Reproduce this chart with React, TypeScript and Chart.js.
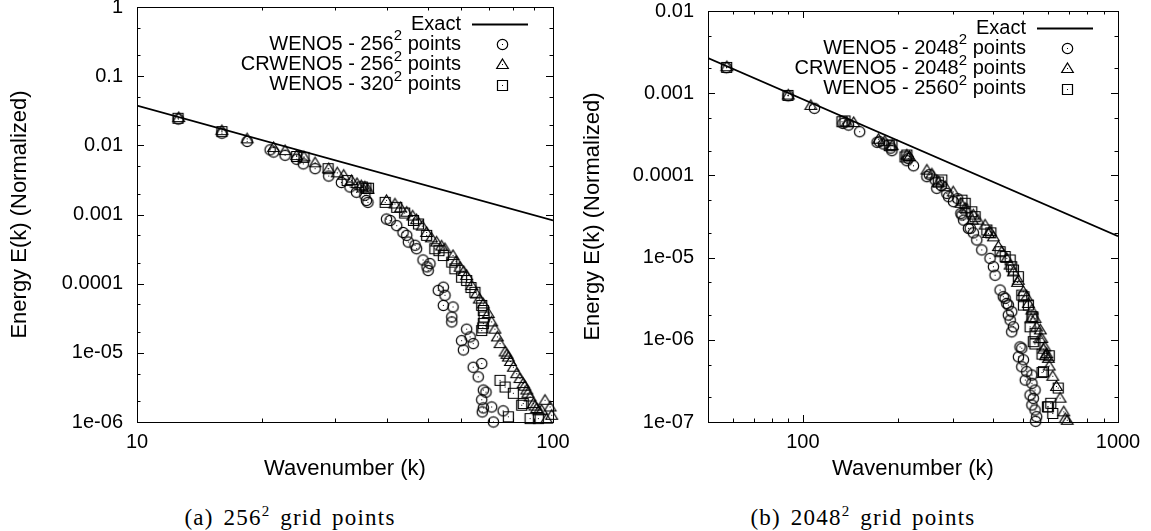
import React, { useEffect, useRef } from 'react';
import { Chart, registerables } from 'chart.js';
Chart.register(...registerables);

// ---------- Panel (a): 256^2 grid points ----------
const aExact: [number, number][] = [[10, 0.0375], [100, 0.00082]];
const aWeno256: [number, number][] = [
  [12.57, 0.024], [16.0, 0.015], [18.4, 0.0114], [20.9, 0.0086], [21.3, 0.008], [22.7, 0.0072], [24.2, 0.0063],
  [25.1, 0.0054], [26.8, 0.0046], [28.9, 0.0036], [31.0, 0.0029], [32.5, 0.0025], [33.7, 0.0021], [35.3, 0.0019],
  [35.6, 0.0016], [35.9, 0.0015], [39.8, 8.6e-4], [40.6, 8.2e-4], [42.1, 6.9e-4], [43.6, 5.5e-4], [44.5, 5.0e-4],
  [44.9, 4.0e-4], [46.6, 3.6e-4], [47.0, 3.2e-4], [48.7, 2.2e-4], [50.6, 1.95e-4], [50.1, 1.55e-4], [49.8, 1.75e-4],
  [53.0, 8.0e-5], [54.5, 8.9e-5], [55.0, 6.8e-5], [54.5, 4.85e-5], [57.5, 4.6e-5], [57.1, 3.3e-5], [57.1, 2.8e-5],
  [62.0, 2.2e-5], [60.3, 1.5e-5], [63.2, 1.7e-5], [60.9, 1.1e-5], [64.3, 1.36e-5], [64.3, 6.2e-6], [67.4, 7.0e-6],
  [66.1, 4.5e-6], [69.0, 2.7e-6], [68.0, 2.9e-6], [67.4, 2.1e-6], [68.0, 1.6e-6], [67.6, 1.4e-6], [71.2, 1.65e-6],
  [71.9, 1.0e-6], [75.9, 1.45e-6],
];
const aCrweno256: [number, number][] = [
  [12.6, 0.0252], [16.0, 0.0163], [18.4, 0.0124], [21.3, 0.0093], [22.7, 0.0084], [24.2, 0.0071], [25.2, 0.0068],
  [26.8, 0.0056], [28.9, 0.0046], [30.3, 0.004], [31.4, 0.0037], [32.8, 0.0031], [33.8, 0.0028], [34.6, 0.0026],
  [35.3, 0.0025], [35.9, 0.0023], [39.8, 1.6e-3], [41.7, 1.42e-3], [43.0, 1.25e-3], [44.5, 1.08e-3], [46.0, 9.5e-4],
  [47.0, 8.4e-4], [48.5, 6.8e-4], [49.7, 5.5e-4], [51.0, 4.6e-4], [52.5, 4.0e-4], [54.0, 3.5e-4], [55.0, 3.2e-4],
  [57.5, 2.55e-4], [58.5, 2.1e-4], [59.8, 1.73e-4], [61.0, 1.5e-4], [62.0, 1.31e-4], [63.8, 9.4e-5], [65.5, 7.1e-5],
  [66.5, 6.0e-5], [68.0, 5.1e-5], [69.9, 3.7e-5], [71.2, 2.8e-5], [72.5, 2.2e-5], [73.5, 1.7e-5], [74.6, 1.36e-5],
  [76.7, 1.03e-5], [77.5, 9.5e-6], [78.1, 8.7e-6], [79.0, 7.5e-6], [80.3, 6.2e-6], [81.8, 5.0e-6], [83.3, 4.25e-6],
  [84.8, 3.6e-6], [85.5, 3.3e-6], [86.5, 2.9e-6], [87.0, 2.6e-6], [88.1, 2.3e-6], [89.7, 1.85e-6], [90.5, 1.7e-6],
  [91.4, 1.57e-6], [92.5, 1.45e-6], [93.9, 1.48e-6], [95.7, 2.06e-6], [96.5, 1.1e-6], [98.4, 1.65e-6], [99.3, 1.25e-6],
];
const aWeno320: [number, number][] = [
  [12.55, 0.0246], [16.0, 0.0158], [24.2, 0.0069], [25.2, 0.0067], [28.8, 0.0046], [32.0, 0.0031], [34.8, 0.0025],
  [35.5, 0.0024], [36.0, 0.0024], [39.5, 1.5e-3], [42.1, 1.27e-3], [44.0, 1.05e-3], [46.2, 8.2e-4], [47.5, 7.3e-4],
  [49.7, 5.0e-4], [52.0, 3.2e-4], [53.2, 3.0e-4], [54.5, 2.55e-4], [57.1, 2.05e-4], [58.1, 1.64e-4], [60.3, 1.24e-4],
  [62.0, 1.11e-4], [63.5, 8.8e-5], [64.9, 7.5e-5], [67.4, 4.85e-5], [68.0, 4.1e-5], [68.3, 3.3e-5], [68.0, 2.65e-5],
  [67.8, 2.3e-5], [67.4, 2.1e-5], [74.6, 4.0e-6], [76.7, 3.2e-6], [80.3, 2.6e-6], [84.1, 1.75e-6], [84.8, 1.85e-6],
  [88.1, 1.12e-6], [92.2, 1.12e-6], [78.1, 1.19e-6],
];

// ---------- Panel (b): 2048^2 grid points ----------
const bExact: [number, number][] = [[50, 2.68e-3], [1000, 1.82e-5]];
const bWeno2048: [number, number][] = [
  [57.2, 2.04e-3], [89.8, 9.3e-4], [108.8, 6.55e-4], [134, 4.3e-4], [139.6, 4.1e-4], [151.4, 3.4e-4], [172, 2.53e-4],
  [175.1, 2.57e-4], [180.3, 2.41e-4], [191.7, 2.0e-4], [190, 2.15e-4], [213.8, 1.51e-4], [216, 1.6e-4], [224.4, 1.31e-4],
  [247.5, 9.65e-5], [252, 1.02e-4], [263, 8.8e-5], [266, 6.97e-5], [275, 7.5e-5], [286.4, 6.05e-5], [290, 5.5e-5],
  [300.6, 4.79e-5], [310, 5.2e-5], [317.3, 3.46e-5], [319.6, 3.3e-5], [323.6, 2.86e-5], [335.2, 2.27e-5],
  [339.6, 2.27e-5], [347.5, 2.0e-5], [356.3, 1.64e-5], [369.6, 1.24e-5], [392.6, 9.8e-6], [402.4, 7.75e-6],
  [407.4, 6.1e-6], [422.6, 4.03e-6], [432.5, 3.34e-6], [438.3, 3.2e-6], [443.6, 2.77e-6], [448.7, 2.65e-6],
  [448.7, 2.0e-6], [460, 2.2e-6], [454.7, 1.74e-6], [465.6, 1.44e-6], [460, 1.25e-6], [495, 7.9e-7], [483, 6.2e-7],
  [488.7, 8.2e-7], [501, 5.7e-7], [495, 4.7e-7], [513.3, 4.1e-7], [533, 3.73e-7], [508, 3.24e-7], [533, 2.96e-7],
  [545.5, 2.45e-7], [526, 2.13e-7], [538.5, 1.94e-7], [533, 1.61e-7], [545.5, 1.4e-7], [552, 1.16e-7], [548, 1.02e-7],
];
const bCrweno2048: [number, number][] = [
  [57.4, 2.1e-3], [89.9, 9.5e-4], [106, 7.1e-4], [138, 4.37e-4], [145, 4.4e-4], [173.9, 2.75e-4], [182, 2.6e-4],
  [192, 2.3e-4], [213.8, 1.77e-4], [218, 1.7e-4], [247.5, 1.16e-4], [256.7, 1.04e-4], [269, 8.15e-5], [282.9, 7.3e-5],
  [300, 6.3e-5], [317.3, 4.58e-5], [327, 3.98e-5], [331.4, 3.9e-5], [347.5, 3.3e-5], [345, 2.86e-5], [359.4, 2.86e-5],
  [378.6, 2.49e-5], [388, 1.97e-5], [392.6, 2.07e-5], [402.4, 1.79e-5], [417.3, 1.36e-5], [427.8, 1.18e-5],
  [443.6, 9.8e-6], [454.7, 8.1e-6], [465.6, 6.7e-6], [482.8, 5.3e-6], [480, 5.0e-6], [501, 3.85e-6], [513, 3.34e-6],
  [519.4, 2.77e-6], [533, 2.3e-6], [530, 1.8e-6], [545.5, 1.82e-6], [552, 1.43e-6], [567, 1.32e-6], [573, 1.04e-6],
  [565, 1.03e-6], [586, 8.2e-7], [581, 7.7e-7], [594, 6.8e-7], [601, 5.95e-7], [589, 6.4e-7], [605, 4.8e-7],
  [621, 3.6e-7], [638, 2.71e-7], [655, 1.95e-7], [673, 1.33e-7], [690, 1.05e-7], [680, 1.1e-7],
];
const bWeno2560: [number, number][] = [
  [57.3, 2.06e-3], [89.7, 9.4e-4], [133.1, 4.5e-4], [136, 4.6e-4], [191.7, 2.35e-4], [188, 2.3e-4], [213.8, 1.77e-4],
  [211, 1.68e-4], [276, 8.8e-5], [269, 8.3e-5], [319.6, 5.0e-5], [327.3, 4.58e-5], [343.5, 3.61e-5], [352, 3.15e-5],
  [383.5, 2.17e-5], [395, 2.0e-5], [422.6, 1.18e-5], [438.4, 1.03e-5], [454.7, 9.35e-6], [460, 7.75e-6],
  [465.6, 7.06e-6], [482.8, 5.86e-6], [495, 3.5e-6], [501, 2.65e-6], [503, 3.34e-6], [519.4, 2.65e-6], [533, 1.91e-6],
  [526, 1.44e-6], [537, 1.9e-6], [545.5, 1.2e-6], [538.5, 9.5e-7], [545, 8.9e-7], [580, 4.1e-7], [574, 6.7e-7],
  [605, 6.4e-7], [574, 4.0e-7], [646, 2.59e-7], [612, 1.69e-7], [597, 1.53e-7], [601, 1.53e-7], [621, 1.27e-7],
];

// ---------- Axes ----------
const aXMajor = [10, 100];
const aXLabels = ['10', '100'];
const aXMinor = [20, 30, 40, 50, 60, 70, 80, 90];
const aYMajor = [1e-6, 1e-5, 1e-4, 1e-3, 1e-2, 1e-1, 1];
const aYLabels = ['1e-06', '1e-05', '0.0001', '0.001', '0.01', '0.1', '1'];
const aYMinor = [2e-6, 5e-6, 2e-5, 5e-5, 2e-4, 5e-4, 2e-3, 5e-3, 2e-2, 5e-2, 0.2, 0.5];

const bXMajor = [100, 1000];
const bXLabels = ['100', '1000'];
const bXMinor = [60, 70, 80, 90, 200, 300, 400, 500, 600, 700, 800, 900];
const bYMajor = [1e-7, 1e-6, 1e-5, 1e-4, 1e-3, 1e-2];
const bYLabels = ['1e-07', '1e-06', '1e-05', '0.0001', '0.001', '0.01'];
const bYMinor = [2e-7, 5e-7, 2e-6, 5e-6, 2e-5, 5e-5, 2e-4, 5e-4, 2e-3, 5e-3];

const aLegend = [['Exact', '', ''], ['WENO5 - 256', '2', ' points'], ['CRWENO5 - 256', '2', ' points'], ['WENO5 - 320', '2', ' points']];
const bLegend = [['Exact', '', ''], ['WENO5 - 2048', '2', ' points'], ['CRWENO5 - 2048', '2', ' points'], ['WENO5 - 2560', '2', ' points']];

const FONT = "'Liberation Sans', Arial, Helvetica, sans-serif";
const INK = '#000';

function makeMarker(kind: string): HTMLCanvasElement {
  const s = 15;
  const c = document.createElement('canvas');
  c.width = s;
  c.height = s;
  const g = c.getContext('2d')!;
  g.strokeStyle = INK;
  g.lineWidth = 1.2;
  const m = 7.5;
  g.beginPath();
  if (kind === 'circle') g.arc(m, m, 5.2, 0, Math.PI * 2);
  else if (kind === 'square') g.rect(m - 5, m - 5, 10, 10);
  else {
    g.moveTo(m, m - 5.5);
    g.lineTo(m + 5.8, m + 4);
    g.lineTo(m - 5.8, m + 4);
    g.closePath();
  }
  g.stroke();
  g.fillStyle = INK;
  g.fillRect(7, 7, 1, 1);
  return c;
}

function labelFor(majors: number[], labels: string[]) {
  return (v: any) => {
    const n = Number(v);
    for (let i = 0; i < majors.length; i++) {
      if (Math.abs(Math.log10(n) - Math.log10(majors[i])) < 1e-6) return labels[i];
    }
    return '';
  };
}

const framePlugin = {
  id: 'frameTicks',
  afterDraw(chart: any, _args: any, opts: any) {
    const { ctx, chartArea: a, scales } = chart;
    const xs = scales.x;
    const ys = scales.y;
    ctx.save();
    ctx.strokeStyle = INK;
    ctx.lineWidth = 1;
    ctx.strokeRect(Math.round(a.left) + 0.5, Math.round(a.top) + 0.5, Math.round(a.right - a.left), Math.round(a.bottom - a.top));
    const drawX = (vals: number[], len: number) => {
      vals.forEach((v) => {
        const p = Math.round(xs.getPixelForValue(v)) + 0.5;
        ctx.beginPath();
        ctx.moveTo(p, a.bottom);
        ctx.lineTo(p, a.bottom - len);
        ctx.moveTo(p, a.top);
        ctx.lineTo(p, a.top + len);
        ctx.stroke();
      });
    };
    const drawY = (vals: number[], len: number) => {
      vals.forEach((v) => {
        const p = Math.round(ys.getPixelForValue(v)) + 0.5;
        ctx.beginPath();
        ctx.moveTo(a.left, p);
        ctx.lineTo(a.left + len, p);
        ctx.moveTo(a.right, p);
        ctx.lineTo(a.right - len, p);
        ctx.stroke();
      });
    };
    drawX(opts.xMajor, 7);
    drawX(opts.xMinor, 3.5);
    drawY(opts.yMajor, 7);
    drawY(opts.yMinor, 3.5);
    ctx.restore();
  },
};

const legendPlugin = {
  id: 'gpLegend',
  afterDatasetsDraw(chart: any, _args: any, opts: any) {
    const { ctx, chartArea: a } = chart;
    const items: string[][] = opts.items;
    const markers: HTMLCanvasElement[] = opts.markers;
    ctx.save();
    ctx.fillStyle = INK;
    ctx.textBaseline = 'middle';
    const textRight = a.right - 92;
    items.forEach((it, i) => {
      const y = a.top + 17 + i * 20.2;
      ctx.font = `20px ${FONT}`;
      const w0 = ctx.measureText(it[0]).width;
      const w2 = ctx.measureText(it[2]).width;
      ctx.font = `15px ${FONT}`;
      const w1 = it[1] ? ctx.measureText(it[1]).width : 0;
      let x = textRight - (w0 + w1 + w2);
      ctx.font = `20px ${FONT}`;
      ctx.fillText(it[0], x, y);
      x += w0;
      if (it[1]) {
        ctx.font = `15px ${FONT}`;
        ctx.fillText(it[1], x, y - 8);
        x += w1;
        ctx.font = `20px ${FONT}`;
      }
      ctx.fillText(it[2], x, y);
      if (i === 0) {
        ctx.strokeStyle = INK;
        ctx.lineWidth = 1.8;
        ctx.beginPath();
        ctx.moveTo(a.right - 81, Math.round(y) + 0.5);
        ctx.lineTo(a.right - 25, Math.round(y) + 0.5);
        ctx.stroke();
      } else {
        const m = markers[i - 1];
        ctx.drawImage(m, Math.round(a.right - 51) - 7.5 + 0.5, Math.round(y) - 7.5 + 0.5);
      }
    });
    ctx.restore();
  },
};

function pts(arr: [number, number][]) {
  return arr.map(([x, y]) => ({ x, y }));
}

interface PanelProps {
  exact: [number, number][];
  series: [number, number][][];
  xMin: number;
  xMax: number;
  yMin: number;
  yMax: number;
  xMajor: number[];
  xLabels: string[];
  xMinor: number[];
  yMajor: number[];
  yLabels: string[];
  yMinor: number[];
  legend: string[][];
  yWidth: number;
  padRight: number;
  padTop: number;
  yTitlePad: number;
  width: number;
}

const HEIGHT = 490;

function Panel(p: PanelProps) {
  const ref = useRef<HTMLCanvasElement>(null);
  useEffect(() => {
    const markers = [makeMarker('circle'), makeMarker('triangle'), makeMarker('square')];
    const font = { family: FONT, size: 20 };
    const titleFont = { family: FONT, size: 22 };
    const chart = new Chart(ref.current!, {
      type: 'scatter',
      data: {
        datasets: [
          {
            type: 'line',
            label: 'Exact',
            data: pts(p.exact),
            borderColor: INK,
            borderWidth: 1.8,
            pointRadius: 0,
            showLine: true,
            fill: false,
          } as any,
          ...p.series.map((s, i) => ({
            label: 's' + i,
            data: pts(s),
            pointStyle: markers[i],
            pointRadius: 6,
            clip: false,
          })),
        ],
      },
      options: {
        animation: false,
        responsive: false,
        devicePixelRatio: 1,
        events: [],
        layout: { padding: { left: 0, right: p.padRight, top: p.padTop, bottom: 0 } },
        plugins: {
          legend: { display: false },
          tooltip: { enabled: false },
          frameTicks: { xMajor: p.xMajor, xMinor: p.xMinor, yMajor: p.yMajor, yMinor: p.yMinor },
          gpLegend: { items: p.legend, markers },
        } as any,
        scales: {
          x: {
            type: 'logarithmic',
            min: p.xMin,
            max: p.xMax,
            afterBuildTicks: (s: any) => {
              s.ticks = p.xMajor.map((v) => ({ value: v }));
            },
            afterFit: (s: any) => {
              s.height = HEIGHT - 422;
              s.paddingLeft = 0;
              s.paddingRight = 0;
            },
            ticks: {
              callback: labelFor(p.xMajor, p.xLabels),
              padding: 8,
              maxRotation: 0,
              autoSkip: false,
              font,
              color: INK,
            },
            grid: { display: false, drawTicks: false },
            border: { display: false },
            title: { display: true, text: 'Wavenumber (k)', font: titleFont, color: INK, padding: { top: 0, bottom: 8 } },
          },
          y: {
            type: 'logarithmic',
            min: p.yMin,
            max: p.yMax,
            afterBuildTicks: (s: any) => {
              s.ticks = p.yMajor.map((v) => ({ value: v }));
            },
            afterFit: (s: any) => {
              s.width = p.yWidth;
              s.paddingTop = 0;
              s.paddingBottom = 0;
            },
            ticks: {
              callback: labelFor(p.yMajor, p.yLabels),
              padding: 14,
              autoSkip: false,
              font,
              color: INK,
            },
            grid: { display: false, drawTicks: false },
            border: { display: false },
            title: {
              display: true,
              text: 'Energy E(k) (Normalized)',
              font: titleFont,
              color: INK,
              padding: { top: p.yTitlePad, bottom: 0 },
            },
          },
        },
      } as any,
      plugins: [framePlugin, legendPlugin],
    });
    return () => chart.destroy();
  }, []);
  return <canvas ref={ref} width={p.width} height={HEIGHT} style={{ width: p.width, height: HEIGHT, display: 'block' }} />;
}

const captionStyle: React.CSSProperties = {
  position: 'absolute',
  top: 504,
  transform: 'translateX(-50%)',
  fontFamily: "'Liberation Serif', 'DejaVu Serif', serif",
  fontSize: 23,
  letterSpacing: 1.2,
  wordSpacing: 3,
  whiteSpace: 'nowrap',
  color: '#000',
  lineHeight: '28px',
};

export default function App() {
  return (
    <div style={{ position: 'absolute', left: 0, top: 0, width: 1151, height: 531, background: '#fff', overflow: 'hidden' }}>
      <div style={{ position: 'absolute', left: 0, top: 0 }}>
        <Panel
          exact={aExact}
          series={[aWeno256, aCrweno256, aWeno320]}
          xMin={10}
          xMax={100}
          yMin={1e-6}
          yMax={1}
          xMajor={aXMajor}
          xLabels={aXLabels}
          xMinor={aXMinor}
          yMajor={aYMajor}
          yLabels={aYLabels}
          yMinor={aYMinor}
          legend={aLegend}
          yWidth={137}
          padRight={27}
          padTop={6}
          yTitlePad={7}
          width={580}
        />
      </div>
      <div style={{ position: 'absolute', left: 580, top: 0 }}>
        <Panel
          exact={bExact}
          series={[bWeno2048, bCrweno2048, bWeno2560]}
          xMin={50}
          xMax={1000}
          yMin={1e-7}
          yMax={1e-2}
          xMajor={bXMajor}
          xLabels={bXLabels}
          xMinor={bXMinor}
          yMajor={bYMajor}
          yLabels={bYLabels}
          yMinor={bYMinor}
          legend={bLegend}
          yWidth={128}
          padRight={33}
          padTop={11}
          yTitlePad={0}
          width={571}
        />
      </div>
      <div style={{ ...captionStyle, left: 290 }}>
        (a) 256<sup style={{ fontSize: 15, verticalAlign: 'top', lineHeight: '14px' }}>2</sup> grid points
      </div>
      <div style={{ ...captionStyle, left: 863 }}>
        (b) 2048<sup style={{ fontSize: 15, verticalAlign: 'top', lineHeight: '14px' }}>2</sup> grid points
      </div>
    </div>
  );
}
